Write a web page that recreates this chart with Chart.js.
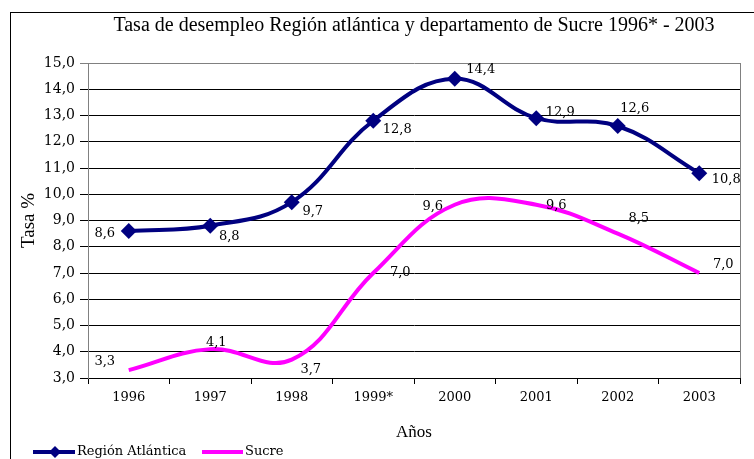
<!DOCTYPE html>
<html>
<head>
<meta charset="utf-8">
<script src="https://cdn.jsdelivr.net/npm/chart.js@4/dist/chart.umd.min.js"></script>
<style>
  html, body { margin: 0; padding: 0; background: #fff; }
  #wrap { width: 754px; height: 459px; }
</style>
</head>
<body>
<div id="wrap"><canvas id="desempleo" width="754" height="459"></canvas></div>
<script>
// DATOS
var years = ['1996', '1997', '1998', '1999*', '2000', '2001', '2002', '2003'];
var regionAtlantica = [8.6, 8.8, 9.7, 12.8, 14.4, 12.9, 12.6, 10.8];
var sucre = [3.3, 4.1, 3.7, 7.0, 9.6, 9.6, 8.5, 7.0];
var yTicks = { min: 3, max: 15, step: 1 };

var chartTitle = 'Tasa de desempleo Región atlántica y departamento de Sucre 1996* - 2003';
var serif = '"DejaVu Serif", serif';
var times = '"Liberation Serif", "Times New Roman", serif';

function coma(v) {
    return Number(v).toFixed(1).replace('.', ',');
}

// etiquetas de datos, marco, titulo y leyenda
var extras = {
    id: 'extras',
    beforeDraw: function (chart) {
        var c = chart.ctx;
        c.save();
        c.fillStyle = '#fff';
        c.fillRect(0, 0, chart.width, chart.height);
        c.strokeStyle = '#000';
        c.lineWidth = 1;
        c.strokeRect(10.5, 12.5, 800, 500);
        c.restore();
    },
    afterDatasetsDraw: function (chart) {
        var c = chart.ctx;
        var a = chart.chartArea;
        c.save();
        // borde derecho del area
        c.strokeStyle = '#808080';
        c.lineWidth = 1;
        c.beginPath();
        c.moveTo(a.right + 0.5, a.top);
        c.lineTo(a.right + 0.5, a.bottom);
        c.stroke();

        c.font = '13px ' + serif;
        c.fillStyle = '#000';
        c.textAlign = 'center';
        c.textBaseline = 'middle';
        chart.data.datasets.forEach(function (ds, i) {
            var meta = chart.getDatasetMeta(i);
            meta.data.forEach(function (pt, j) {
                var off = ds.labelOffsets[j];
                c.fillText(coma(ds.data[j]), pt.x + off[0], pt.y + off[1]);
            });
        });
        c.restore();
    },
    afterDraw: function (chart) {
        var c = chart.ctx;
        var a = chart.chartArea;
        c.save();
        c.fillStyle = '#000';
        c.font = '20px ' + times;
        c.textAlign = 'center';
        c.textBaseline = 'middle';
        c.fillText(chartTitle, (a.left + a.right) / 2, 26);

        // leyenda
        var y = 452;
        c.lineWidth = 4;
        c.strokeStyle = '#000080';
        c.beginPath(); c.moveTo(33, y); c.lineTo(75, y); c.stroke();
        c.fillStyle = '#000080';
        c.beginPath();
        c.moveTo(55, y - 6); c.lineTo(61, y); c.lineTo(55, y + 6); c.lineTo(49, y);
        c.closePath(); c.fill();
        c.strokeStyle = '#ff00ff';
        c.beginPath(); c.moveTo(202, y); c.lineTo(243, y); c.stroke();
        c.fillStyle = '#000';
        c.font = '13px ' + serif;
        c.textAlign = 'left';
        c.fillText(chart.data.datasets[0].label, 77, y);
        c.fillText(chart.data.datasets[1].label, 245, y);
        c.restore();
    }
};

var ctx = document.getElementById('desempleo').getContext('2d');
var chart = new Chart(ctx, {
    type: 'line',
    data: {
        labels: years,
        datasets: [{
            label: 'Región Atlántica',
            data: regionAtlantica,
            borderColor: '#000080',
            backgroundColor: '#000080',
            borderWidth: 4,
            tension: 0.4,
            pointStyle: 'rectRot',
            pointRadius: 8,
            pointBorderWidth: 0,
            labelOffsets: [[-24, 3], [19, 11], [21, 9], [24, 9], [26, -9], [24, -6], [17, -17], [27, 6]]
        }, {
            label: 'Sucre',
            data: sucre,
            borderColor: '#ff00ff',
            backgroundColor: '#ff00ff',
            borderWidth: 4,
            tension: 0.4,
            pointRadius: 0,
            labelOffsets: [[-24, -9], [6, -7], [19, 10], [27, 0], [-22, 2], [20, 1], [21, -15], [24, -8]]
        }]
    },
    options: {
        responsive: false,
        animation: false,
        layout: { padding: { left: 12, right: 14, top: 63, bottom: 16 } },
        plugins: {
            legend: { display: false },
            title: { display: false },
            tooltip: { enabled: false }
        },
        scales: {
            x: {
                offset: true,
                grid: { offset: true, drawOnChartArea: false, drawTicks: true, tickLength: 6, color: '#000' },
                border: { color: '#000' },
                ticks: { color: '#000', font: { family: serif, size: 13 }, padding: 6, maxRotation: 0 },
                title: { display: true, text: 'Años', color: '#000', font: { family: times, size: 17 }, padding: { top: 4, bottom: 0 } },
                afterFit: function (s) { s.height = 65; }
            },
            y: {
                min: yTicks.min,
                max: yTicks.max,
                grid: {
                    color: function (g) { return g.tick && g.tick.value === yTicks.max ? '#808080' : '#000'; },
                    tickLength: 8
                },
                border: { color: '#808080' },
                ticks: { stepSize: yTicks.step, color: '#000', font: { family: serif, size: 14 }, padding: 5, callback: coma },
                title: { display: true, text: 'Tasa %', color: '#000', font: { family: times, size: 19 }, padding: { top: 6, bottom: 0 } },
                afterFit: function (s) { s.width = 76; }
            }
        }
    },
    plugins: [extras]
});
</script>
</body>
</html>
